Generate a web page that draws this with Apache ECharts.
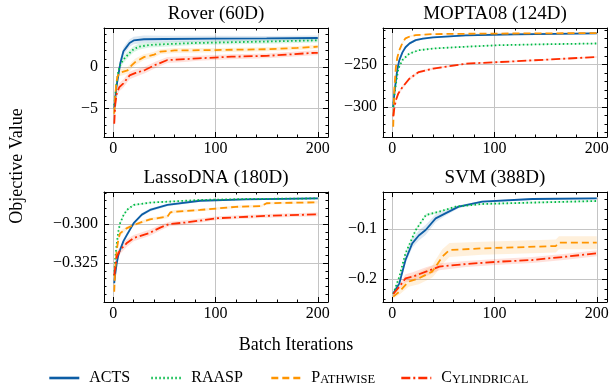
<!DOCTYPE html>
<html>
<head>
<meta charset="utf-8">
<script src="https://cdn.jsdelivr.net/npm/echarts@6/dist/echarts.min.js"></script>
<style>
    html, body {margin: 0; background: #fff;}
    #chart {width: 614px; height: 389px;}
</style>
</head>
<body>
<div id="chart"></div>
<script>
// [batch iteration, mean, half width of shaded band]
let roverActs = [[1, -5.0, 0.6], [2, -3.8, 0.6], [3, -2.5, 0.6], [5, -1.0, 0.55], [7, 0.5, 0.5], [10, 1.9, 0.5], [13, 2.4, 0.5], [16, 2.9, 0.45], [20, 3.2, 0.45], [30, 3.35, 0.45], [50, 3.38, 0.4], [100, 3.42, 0.35], [150, 3.45, 0.3], [200, 3.5, 0.3]];
let roverRaasp = [[1, -4.6, 0.5], [3, -2.2, 0.5], [5, -0.5, 0.45], [7, 0.3, 0.45], [10, 0.9, 0.4], [14, 1.45, 0.4], [20, 2.15, 0.35], [25, 2.45, 0.35], [35, 2.65, 0.3], [50, 2.75, 0.3], [80, 2.9, 0.25], [120, 3.0, 0.25], [160, 3.1, 0.25], [200, 3.22, 0.25]];
let roverPath = [[1, -5.6, 0.5], [2, -3.5, 0.5], [3, -2.0, 0.5], [4, -1.2, 0.45], [6, -0.7, 0.4], [10, -0.55, 0.4], [14, -0.4, 0.4], [18, 0.2, 0.4], [22, 0.65, 0.4], [30, 1.2, 0.35], [40, 1.5, 0.35], [46, 1.85, 0.3], [60, 2.0, 0.3], [100, 2.05, 0.25], [150, 2.15, 0.25], [180, 2.3, 0.25], [200, 2.45, 0.25]];
let roverCyl = [[1, -6.8, 0.6], [2, -4.5, 0.6], [3.5, -3.1, 0.55], [6, -2.4, 0.5], [10, -1.95, 0.5], [16, -1.0, 0.45], [22, -0.7, 0.45], [31, -0.35, 0.4], [41, 0.25, 0.4], [53, 0.85, 0.35], [70, 0.95, 0.35], [83, 1.05, 0.3], [116, 1.25, 0.3], [150, 1.35, 0.3], [197, 1.72, 0.3], [200, 1.72, 0.3]];

let moptaActs = [[1, -300, 3], [2, -285, 3], [3.6, -269, 3], [5, -256, 2.5], [7, -245, 2], [10, -236, 2], [13, -230, 1.5], [17, -225.5, 1.5], [23, -221.7, 1.2], [30, -220, 1], [40, -218.5, 1], [72, -216.1, 1], [120, -215, 1], [200, -213.7, 1]];
let moptaRaasp = [[1, -300, 2], [2, -288, 2], [3.6, -273, 2], [6, -255, 1.5], [10, -245, 1.2], [16.7, -237.4, 1], [26, -233.5, 1], [40, -231.5, 1], [70, -229.5, 0.8], [105, -227.6, 0.8], [150, -226.5, 0.8], [200, -225.6, 0.8]];
let moptaPath = [[1, -323, 3], [2, -280, 3], [3.6, -253, 2.5], [5, -242, 2], [7, -233.5, 1.5], [10, -225, 1.2], [13, -219.6, 1], [18, -217, 1], [23, -215.8, 0.8], [40, -214.6, 0.8], [100, -214, 0.8], [200, -213.5, 0.8]];
let moptaCyl = [[1, -311, 3], [2, -302, 3], [3.6, -292, 2.5], [6, -284, 2], [10, -276.8, 2], [16.7, -266.9, 2], [26, -259, 1.5], [40, -255, 1.2], [72, -249.2, 1], [105, -247.3, 1], [138, -245.3, 1], [170, -243.3, 1], [200, -241.4, 1]];

let lassoActs = [[1, -0.338, 0.002], [2, -0.332, 0.002], [3.5, -0.325, 0.002], [5, -0.320, 0.002], [6.7, -0.3167, 0.0015], [10, -0.311, 0.0015], [13.4, -0.307, 0.0015], [20, -0.2995, 0.001], [28, -0.294, 0.001], [36, -0.291, 0.001], [53, -0.2878, 0.0008], [85, -0.2851, 0.0006], [130, -0.2842, 0.0005], [200, -0.2836, 0.0005]];
let lassoRaasp = [[1, -0.333, 0.002], [2, -0.322, 0.002], [3.5, -0.3124, 0.0015], [5, -0.305, 0.0012], [6.7, -0.2996, 0.001], [10, -0.2945, 0.001], [13.4, -0.291, 0.0008], [20, -0.2878, 0.0006], [36, -0.2863, 0.0005], [85, -0.2846, 0.0005], [130, -0.284, 0.0005], [200, -0.2836, 0.0005]];
let lassoPath = [[1, -0.3434, 0.002], [2, -0.328, 0.002], [3.5, -0.3167, 0.002], [5, -0.310, 0.0015], [6.7, -0.306, 0.0015], [13, -0.3028, 0.0012], [20, -0.3006, 0.001], [36, -0.297, 0.001], [53, -0.2953, 0.001], [56, -0.2925, 0.001], [60, -0.2921, 0.001], [85, -0.291, 0.0008], [120, -0.289, 0.0008], [145, -0.2885, 0.0008], [150, -0.2867, 0.0008], [200, -0.2861, 0.0008]];
let lassoCyl = [[1, -0.333, 0.003], [3.5, -0.321, 0.003], [6.7, -0.3167, 0.0025], [13, -0.3124, 0.0025], [20, -0.309, 0.002], [36, -0.3056, 0.002], [46, -0.3023, 0.0018], [55, -0.300, 0.0015], [70, -0.2991, 0.0015], [102, -0.2963, 0.0012], [150, -0.2948, 0.0012], [200, -0.2938, 0.0012]];

let svmActs = [[1, -0.2287, 0.003], [7, -0.2087, 0.005], [13, -0.162, 0.007], [19.6, -0.1287, 0.009], [26, -0.113, 0.01], [32.7, -0.102, 0.01], [42.5, -0.0787, 0.008], [52, -0.0687, 0.005], [65, -0.0553, 0.003], [88, -0.0453, 0.002], [137, -0.04, 0.002], [200, -0.0387, 0.002]];
let svmRaasp = [[1, -0.23, 0.003], [7, -0.195, 0.003], [13, -0.1487, 0.003], [23, -0.102, 0.003], [33, -0.072, 0.003], [46, -0.0653, 0.002], [62, -0.0553, 0.002], [88, -0.05, 0.002], [140, -0.047, 0.002], [200, -0.044, 0.002]];
let svmPath = [[1, -0.2353, 0.004], [7, -0.2253, 0.006], [16, -0.2053, 0.01], [26, -0.1987, 0.012], [39, -0.1853, 0.012], [42.5, -0.1753, 0.014], [49, -0.1553, 0.015], [56, -0.142, 0.014], [88, -0.1387, 0.013], [121, -0.1367, 0.013], [160, -0.134, 0.013], [163, -0.1273, 0.013], [200, -0.1273, 0.013]];
let svmCyl = [[1, -0.23, 0.004], [7, -0.2153, 0.005], [13, -0.1987, 0.008], [20, -0.1953, 0.009], [33, -0.1853, 0.009], [46, -0.1753, 0.007], [72, -0.17, 0.006], [105, -0.1653, 0.006], [137, -0.162, 0.006], [170, -0.1553, 0.006], [200, -0.1487, 0.006]];

let methods = ['ACTS', 'RAASP', 'Pathwise', 'Cylindrical'];
let xMajor = [0, 100, 200];
let xMinor = [20, 40, 60, 80, 120, 140, 160, 180];

let font = 'Liberation Serif';
let colors = ['#0C5DA5', '#00B945', '#FF9500', '#FF2C00'];
let dashes = ['solid', [1.5, 2.5], [7, 4], [9, 3, 2, 3]];

let panels = [
    {title: 'Rover (60D)', left: 104, top: 28, height: 109, min: -8.4, max: 4.7,
        major: [-5, 0], minor: [-8, -7, -6, -4, -3, -2, -1, 1, 2, 3, 4], digits: 0,
        lines: [roverActs, roverRaasp, roverPath, roverCyl]},
    {title: 'MOPTA08 (124D)', left: 383, top: 28, height: 109, min: -335, max: -207.5,
        major: [-300, -250], minor: [-330, -320, -310, -290, -280, -270, -260, -240, -230, -220, -210], digits: 0,
        lines: [moptaActs, moptaRaasp, moptaPath, moptaCyl]},
    {title: 'LassoDNA (180D)', left: 104, top: 192, height: 110, min: -0.350, max: -0.2795,
        major: [-0.325, -0.300], minor: [-0.345, -0.340, -0.335, -0.330, -0.320, -0.315, -0.310, -0.305, -0.295, -0.290, -0.285, -0.280], digits: 3,
        lines: [lassoActs, lassoRaasp, lassoPath, lassoCyl]},
    {title: 'SVM (388D)', left: 383, top: 192, height: 110, min: -0.246, max: -0.026,
        major: [-0.2, -0.1], minor: [-0.24, -0.22, -0.18, -0.16, -0.14, -0.12, -0.08, -0.06, -0.04], digits: 1,
        lines: [svmActs, svmRaasp, svmPath, svmCyl]}
];

function fmt(v, digits) {
    let s = Math.abs(v).toFixed(digits);
    return v < 0 ? '\u2212' + s : s;
}

let chart = echarts.init(document.getElementById('chart'));
let grids = [], xAxes = [], yAxes = [], series = [], graphics = [];

function axisPair(list, gridIndex, dim, p, values, isMajor) {
    let pos = dim === 'x' ? ['bottom', 'top'] : ['left', 'right'];
    pos.forEach(function (position, k) {
        let showLabel = isMajor && k === 0;
        list.push({
            type: 'value',
            gridIndex: gridIndex,
            position: position,
            min: dim === 'x' ? -9 : p.min,
            max: dim === 'x' ? 210 : p.max,
            axisLine: {show: isMajor, onZero: false, lineStyle: {color: '#000', width: 1}},
            axisTick: {show: true, inside: true, length: isMajor ? 5 : 2.5, customValues: values,
                lineStyle: {color: '#000', width: 1}},
            axisLabel: {show: showLabel, customValues: values, margin: dim === 'x' ? 4 : 6,
                fontFamily: font, fontSize: 16, color: '#000',
                formatter: function (v) {
                    return dim === 'x' ? String(v) : fmt(v, p.digits);
                }},
            splitLine: {show: showLabel, lineStyle: {color: '#c4c4c4', width: 1}},
            minorTick: {show: false},
            minorSplitLine: {show: false}
        });
    });
}

// shaded band drawn as one polygon through the axis scales
function bandSeries(d, color, xIdx, yIdx) {
    return {
        type: 'custom', xAxisIndex: xIdx, yAxisIndex: yIdx, silent: true, z: 1, clip: true,
        data: d.map(function (r) { return [r[0], r[1] - r[2], r[1] + r[2]]; }),
        encode: {x: 0, y: [1, 2]},
        renderItem: function (params, api) {
            if (params.dataIndexInside !== 0) {
                return;
            }
            let upper = [], lower = [];
            d.forEach(function (r) {
                upper.push(api.coord([r[0], r[1] + r[2]]));
                lower.unshift(api.coord([r[0], r[1] - r[2]]));
            });
            return {
                type: 'polygon',
                shape: {points: upper.concat(lower)},
                style: {fill: color, opacity: 0.14}
            };
        }
    };
}

panels.forEach(function (p, i) {
    let rect = {left: p.left, top: p.top, width: 224, height: p.height};
    let g = i * 2;
    grids.push(Object.assign({}, rect), Object.assign({}, rect));
    let xIdx = xAxes.length, yIdx = yAxes.length;
    axisPair(xAxes, g, 'x', p, xMajor, true);
    axisPair(yAxes, g, 'y', p, p.major, true);
    axisPair(xAxes, g + 1, 'x', p, xMinor, false);
    axisPair(yAxes, g + 1, 'y', p, p.minor, false);

    p.lines.forEach(function (d, j) {
        series.push(bandSeries(d, colors[j], xIdx, yIdx));
    });
    p.lines.forEach(function (d, j) {
        series.push({
            type: 'line', name: methods[j], xAxisIndex: xIdx, yAxisIndex: yIdx,
            symbol: 'none', z: 3,
            lineStyle: {color: colors[j], width: 1.8, type: dashes[j], cap: 'butt'},
            itemStyle: {color: colors[j]},
            data: d.map(function (r) { return [r[0], r[1]]; })
        });
    });

    graphics.push({
        type: 'text', x: p.left + 112, y: p.top - 14,
        style: {text: p.title, fontFamily: font, fontSize: 19, fill: '#000', align: 'center', verticalAlign: 'middle'}
    });
});

graphics.push({
    type: 'text', x: 296, y: 345,
    style: {text: 'Batch Iterations', fontFamily: font, fontSize: 18, fill: '#000', align: 'center', verticalAlign: 'middle'}
});
graphics.push({
    type: 'text', x: 17, y: 166, rotation: Math.PI / 2,
    style: {text: 'Objective Value', fontFamily: font, fontSize: 18, fill: '#000', align: 'center', verticalAlign: 'middle'}
});

// small caps for the method names
function smallCaps(name) {
    if (name === 'ACTS' || name === 'RAASP') {
        return '{a|' + name + '}';
    }
    return '{a|' + name[0] + '}{b|' + name.slice(1).toUpperCase() + '}';
}

let legendLeft = [48, 150, 270, 400];
let legends = methods.map(function (m, j) {
    return {
        data: [m],
        left: legendLeft[j],
        top: 370,
        padding: 0,
        itemWidth: 30,
        itemHeight: 14,
        itemGap: 0,
        formatter: smallCaps,
        itemStyle: {opacity: 0},
        textStyle: {
            color: '#000',
            padding: [0, 0, 0, 5],
            rich: {
                a: {fontFamily: font, fontSize: 16, color: '#000', verticalAlign: 'bottom'},
                b: {fontFamily: font, fontSize: 12.5, color: '#000', verticalAlign: 'bottom'}
            }
        },
        lineStyle: {width: 2.6}
    };
});

chart.setOption({
    animation: false,
    backgroundColor: '#fff',
    grid: grids,
    xAxis: xAxes,
    yAxis: yAxes,
    legend: legends,
    series: series,
    graphic: graphics
});
</script>
</body>
</html>
